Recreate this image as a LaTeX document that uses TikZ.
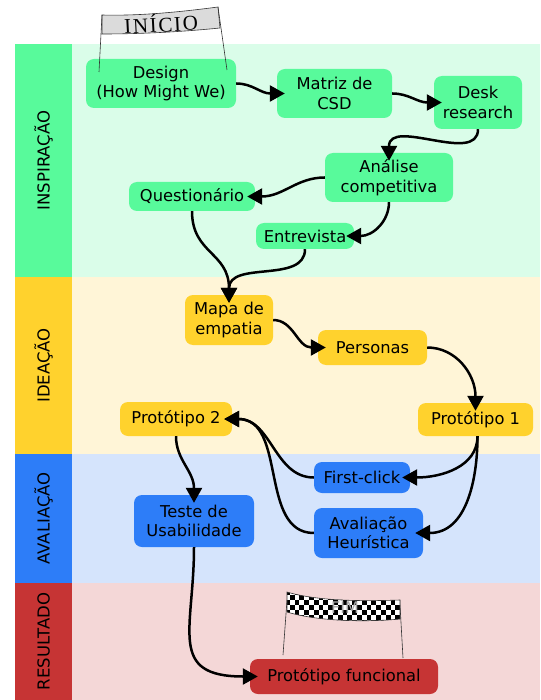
\documentclass[tikz,border=0pt]{standalone}
\usepackage{fontspec}
\setmainfont{DejaVu Sans}
\newfontfamily\bannerfont[LetterSpace=8]{Liberation Serif}
\usetikzlibrary{arrows.meta}
\definecolor{inspbar}{RGB}{88,250,155}
\definecolor{inspbg}{RGB}{218,253,233}
\definecolor{ideabar}{RGB}{255,210,45}
\definecolor{ideabg}{RGB}{255,245,215}
\definecolor{avalbar}{RGB}{45,125,248}
\definecolor{avalbg}{RGB}{213,228,252}
\definecolor{resbar}{RGB}{198,52,52}
\definecolor{resbg}{RGB}{244,215,215}
\tikzstyle{stepbox} = [
    rectangle,
    rounded corners=8pt,
    draw=none,
    align=center,
    inner sep=2pt
]
\tikzstyle{inspbox} = [stepbox, fill=inspbar]
\tikzstyle{ideabox} = [stepbox, fill=ideabar]
\tikzstyle{avalbox} = [stepbox, fill=avalbar]
\tikzstyle{resbox} = [stepbox, fill=resbar]
\tikzstyle{lanelabel} = [
    rotate=90,
    font=\fontsize{16.5}{20}\selectfont
]
\tikzstyle{string} = [line width=0.6pt, draw=black!80]
\tikzstyle{arrow} = [line width=2.5pt, -{Triangle[length=15pt,width=16pt]}, shorten >=-8pt]

\begin{document}
\begin{tikzpicture}[x=1pt, y=1pt, font=\fontsize{16.3}{19.5}\selectfont]
\useasboundingbox (0,0) rectangle (540,-700);

\fill[inspbg] (72,-44) rectangle (540,-277);
\fill[ideabg] (72,-277) rectangle (540,-454);
\fill[avalbg] (72,-454) rectangle (540,-583);
\fill[resbg] (72,-583) rectangle (540,-700);
\fill[inspbar] (15,-44) rectangle (72,-277);
\fill[ideabar] (15,-277) rectangle (72,-454);
\fill[avalbar] (15,-454) rectangle (72,-583);
\fill[resbar] (15,-583) rectangle (72,-700);

\node (lbinsp) [lanelabel] at (43.5,-160.5) {INSPIRAÇÃO};
\node (lbidea) [lanelabel] at (43.5,-365.5) {IDEAÇÃO};
\node (lbaval) [lanelabel] at (43.5,-518.5) {AVALIAÇÃO};
\node (lbres) [lanelabel] at (43.5,-641.5) {RESULTADO};

\node (design) [inspbox, minimum width=150pt, minimum height=49pt] at (161,-83.5)
{Design\\(How Might We)};
\node (matriz) [inspbox, minimum width=115pt, minimum height=49pt] at (334.5,-93.5)
{Matriz de\\CSD};
\node (desk) [inspbox, minimum width=88pt, minimum height=53pt] at (478,-102.5)
{Desk\\research};
\node (analise) [inspbox, minimum width=128pt, minimum height=49pt] at (389,-177.5)
{Análise\\competitiva};
\node (quest) [inspbox, minimum width=126pt, minimum height=29pt] at (192,-196.5)
{Questionário};
\node (entrevista) [inspbox, minimum width=98pt, minimum height=26pt] at (305,-236)
{Entrevista};

\node (mapa) [ideabox, minimum width=88pt, minimum height=50pt] at (229,-320)
{Mapa de\\empatia};
\node (personas) [ideabox, minimum width=109pt, minimum height=35pt] at (372.5,-347.5)
{Personas};
\node (prot1) [ideabox, minimum width=115pt, minimum height=33pt] at (475.5,-419.5)
{Protótipo 1};
\node (prot2) [ideabox, minimum width=112pt, minimum height=34pt] at (176,-419)
{Protótipo 2};

\node (firstclick) [avalbox, minimum width=96pt, minimum height=31pt] at (362,-477.5)
{First-click};
\node (heuristica) [avalbox, minimum width=109pt, minimum height=50pt] at (368.5,-533)
{Avaliação\\Heurística};
\node (teste) [avalbox, minimum width=120pt, minimum height=52pt] at (194,-521)
{Teste de\\Usabilidade};

\node (funcional) [resbox, minimum width=188pt, minimum height=35pt] at (344,-676.5)
{Protótipo funcional};

\draw [arrow] (design.east) to[out=0,in=180] (matriz.west);
\draw [arrow] (matriz.east) to[out=0,in=180] (desk.west);
\draw [arrow] (desk.south) to[out=270,in=90] (analise.north);
\draw [arrow] (analise.west) to[out=180,in=0] (quest.east);
\draw [arrow] (analise.south) to[out=270,in=0] (entrevista.east);
\draw [arrow] (quest.south) to[out=270,in=90,looseness=1.2] (mapa.north);
\draw [arrow] (entrevista.south) to[out=270,in=90] (mapa.north);
\draw [arrow] (mapa.east) to[out=0,in=180] (personas.west);
\draw [arrow] (personas.east) to[out=0,in=90] (prot1.north);
\draw [arrow] ([xshift=2pt]prot1.south) to[out=270,in=0] (firstclick.east);
\draw [arrow] ([xshift=2pt]prot1.south) to[out=270,in=0] (heuristica.east);
\draw [arrow] (firstclick.west) to[out=180,in=0] (prot2.east);
\draw [arrow] (heuristica.west) to[out=180,in=0] (prot2.east);
\draw [arrow] (prot2.south) to[out=270,in=90] (teste.north);
\draw [arrow] (teste.south) to[out=270,in=180,looseness=1.5] (funcional.west);

\filldraw [fill=black!14, draw=black!80, line width=0.6pt]
  (102,-15) .. controls (140,-16) and (180,-12) .. (218,-7)
  -- (220,-28) .. controls (180,-32) and (140,-34) .. (102,-34) -- cycle;
\node (inicio) [rotate=3, font=\bannerfont\fontsize{21}{22}\selectfont] at (161,-23) {INÍCIO};
\draw [string] (102,-15) -- (99,-72);
\draw [string] (218,-7) -- (227,-70);

\begin{scope}
\clip (287,-592) .. controls (320,-602) and (370,-601) .. (400,-600)
  -- (400,-619) .. controls (370,-622) and (320,-622) .. (287,-612) -- cycle;
\fill[white] (285,-590) rectangle (402,-625);
\foreach \i in {0,...,24} {
  \foreach \j in {0,...,6} {
    \pgfmathparse{int(mod(\i+\j,2))}
    \ifnum\pgfmathresult=0
      \fill[black] (285+\i*4.8,-590-\j*5) rectangle ++(4.8,-5);
    \fi
  }
}
\end{scope}
\draw [black!80, line width=0.6pt] (287,-592) .. controls (320,-602) and (370,-601) .. (400,-600)
  -- (400,-619) .. controls (370,-622) and (320,-622) .. (287,-612) -- cycle;
\node (fim) [text=black!35, font=\fontsize{16}{17}\selectfont] at (345,-608) {FIM};
\draw [string] (287,-600) -- (283,-655);
\draw [string] (400,-605) -- (403,-658);

\end{tikzpicture}
\end{document}
